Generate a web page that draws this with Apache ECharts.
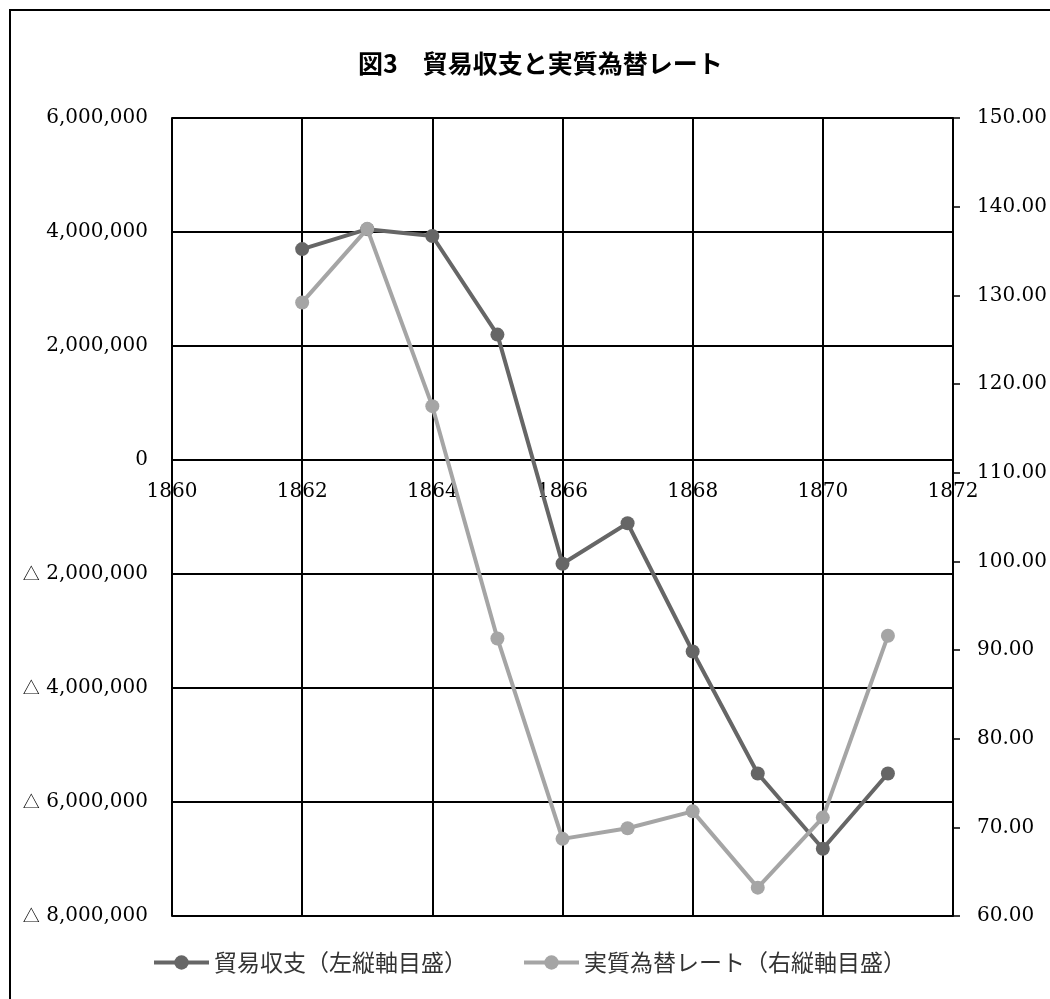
<!DOCTYPE html>
<html>
<head>
<meta charset="utf-8">
<script src="https://cdn.jsdelivr.net/npm/echarts@6/dist/echarts.min.js"></script>
<style>
html,body{margin:0;padding:0;background:#fff;}
#chart{width:1050px;height:999px;}
</style>
</head>
<body>
<div id="chart"></div>
<script>
const titleText = '図3　貿易収支と実質為替レート';
const years = [1862, 1863, 1864, 1865, 1866, 1867, 1868, 1869, 1870, 1871];
const tradeBalance = [3700000, 4050000, 3930000, 2200000, -1820000, -1110000, -3360000, -5500000, -6820000, -5500000];
const realRate = [129.2, 137.5, 117.5, 91.3, 68.7, 69.9, 71.8, 63.2, 71.1, 91.6];
const seriesNames = ['貿易収支（左縦軸目盛）', '実質為替レート（右縦軸目盛）'];
const leftAxisRange = [-8000000, 6000000, 2000000];
const rightAxisRange = [60, 150, 10];
const xAxisRange = [1860, 1872, 2];

const chart = echarts.init(document.getElementById('chart'));
const serif = 'DejaVu Serif';
const cjk = 'Noto Sans CJK JP';

function fmtNum(v) {
  return Math.abs(v).toString().replace(/\B(?=(\d{3})+(?!\d))/g, ',');
}

const legendCommon = {
  top: 946,
  itemWidth: 55,
  itemHeight: 18,
  itemGap: 0,
  lineStyle: { width: 4 },
  textStyle: { fontFamily: cjk, fontSize: 23, color: '#333' }
};

const option = {
  animation: false,
  backgroundColor: '#fff',
  graphic: [{
    type: 'rect',
    shape: { x: 10, y: 10, width: 1100, height: 1100 },
    style: { fill: 'none', stroke: '#000', lineWidth: 2 },
    silent: true
  }],
  title: {
    text: titleText,
    left: 353,
    top: 46,
    textStyle: { fontFamily: cjk, fontWeight: 'bold', fontSize: 25, color: '#000' }
  },
  legend: [
    Object.assign({ left: 147, data: [seriesNames[0]] }, legendCommon),
    Object.assign({ left: 517, data: [seriesNames[1]] }, legendCommon)
  ],
  grid: { left: 172, right: 97, top: 118, bottom: 83, containLabel: false },
  xAxis: {
    type: 'value',
    position: 'bottom',
    min: xAxisRange[0], max: xAxisRange[1], interval: xAxisRange[2],
    axisLine: { show: true, onZero: false, lineStyle: { color: '#000', width: 2 } },
    axisTick: { show: false },
    axisLabel: { fontFamily: serif, fontSize: 20, color: '#000', margin: 22, formatter: v => String(v) },
    splitLine: { show: true, lineStyle: { color: '#000', width: 2 } }
  },
  yAxis: [{
    type: 'value',
    min: leftAxisRange[0], max: leftAxisRange[1], interval: leftAxisRange[2],
    axisLine: { show: true, onZero: false, lineStyle: { color: '#000', width: 2 } },
    axisTick: { show: false },
    axisLabel: {
      fontFamily: serif, fontSize: 20, color: '#000', margin: 24,
      formatter: v => v < 0 ? '{t|△} ' + fmtNum(v) : fmtNum(v),
      rich: { t: { fontFamily: cjk, fontSize: 17, color: '#000' } }
    },
    splitLine: { show: true, lineStyle: { color: '#000', width: 2 } }
  }, {
    type: 'value',
    position: 'right',
    min: rightAxisRange[0], max: rightAxisRange[1], interval: rightAxisRange[2],
    axisLine: { show: true, onZero: false, lineStyle: { color: '#000', width: 2 } },
    axisTick: { show: true, inside: false, length: 7, lineStyle: { color: '#000', width: 1.5 } },
    axisLabel: { fontFamily: serif, fontSize: 20, color: '#000', margin: 24, formatter: v => v.toFixed(2) },
    splitLine: { show: false }
  }],
  series: [{
    name: seriesNames[0],
    type: 'line',
    yAxisIndex: 0,
    data: years.map((y, i) => [y, tradeBalance[i]]),
    symbol: 'circle',
    symbolSize: 14,
    itemStyle: { color: '#666666' },
    lineStyle: { color: '#666666', width: 4 },
    z: 3
  }, {
    name: seriesNames[1],
    type: 'line',
    yAxisIndex: 1,
    data: years.map((y, i) => [y, realRate[i]]),
    symbol: 'circle',
    symbolSize: 14,
    itemStyle: { color: '#a5a5a5' },
    lineStyle: { color: '#a5a5a5', width: 4 },
    z: 4
  }]
};
chart.setOption(option);

// Place the x axis (line and labels) at the zero value of the left axis, as in the original.
const zeroY = chart.convertToPixel({ yAxisIndex: 0 }, 0);
const bottomY = chart.convertToPixel({ yAxisIndex: 0 }, leftAxisRange[0]);
chart.setOption({ xAxis: { offset: -(bottomY - zeroY) } });
</script>
</body>
</html>
